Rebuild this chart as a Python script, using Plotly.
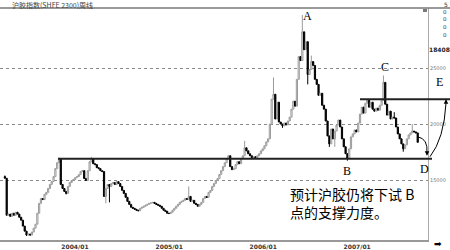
import plotly.graph_objects as go
import pandas as pd

# ---------------- data ----------------
title_text = "沪胶指数(SHFE 2300)周线"
start_week = "2003-04-04"
closes = [
    15200, 11900, 12000, 11800, 12080, 11900, 12170, 12000, 11720, 11460,
    10930, 10480, 10130, 10220, 10130, 10400, 10750, 11100, 12080, 12960,
    13400, 13300, 13760, 13940, 14290, 14650, 14910, 15350, 16060, 16590,
    16950, 14650, 14290, 14030, 13850, 14470, 14820, 15000, 15090, 15260,
    15350, 15530, 15800, 15880, 15180, 15000, 15880, 16680, 16950, 16500,
    16420, 16150, 16060, 15880, 15800, 13580, 14290, 14650, 14470, 14730,
    14820, 14650, 14900, 14730, 14470, 14120, 13850, 13500, 13140, 12870,
    12610, 12520, 12430, 12350, 12300, 12520, 12610, 12700, 12790, 12870,
    12960, 13000, 13050, 12960, 12870, 12790, 12700, 12520, 12350, 12260,
    12080, 12050, 12170, 12350, 12520, 12700, 12870, 13050, 13140, 13230,
    13400, 13320, 13580, 13140, 13230, 12960, 12870, 12700, 12870, 13050,
    13400, 13580, 13500, 13940, 14110, 14470, 14730, 15000, 15180, 15530,
    15880, 16240, 16590, 16950, 17210, 16240, 15970, 16060, 16420, 16680,
    16500, 16950, 17210, 17920, 17650, 17390, 17210, 16950, 17120, 17030,
    17210, 17390, 17650, 17830, 18100, 18450, 18720, 20040, 22260, 22700,
    20490, 21990, 20220, 20040, 19870, 20130, 19960, 20310, 20660, 21370,
    22080, 21640, 24030, 26060, 25710, 28270, 26680, 27390, 24470, 24910,
    25620, 25270, 24030, 23580, 22610, 22790, 21720, 21370, 20310, 18980,
    18270, 19600, 18720, 19420, 19960, 20400, 19780, 18720, 18010, 17390,
    16950, 17830, 18900, 19160, 19510, 19340, 20130, 20930, 21550, 21020,
    21900, 22170, 21550, 21990, 21370, 21190, 21460, 21280, 21720, 22170,
    23760, 21810, 20840, 21190, 20490, 20660, 20580, 19780, 19160, 18720,
    18270, 17830, 18180, 18720, 19070, 19250, 19420, 19340, 19250, 18408,
]
first_open = 15350
wick_highs = {0: 15450, 30: 17050, 48: 17100, 102: 14470, 133: 18540, 149: 24200,
              165: 29780, 170: 26150, 210: 24380, 216: 21100, 226: 20040}
wick_lows = {12: 10050, 34: 13760, 56: 12960, 58: 13050, 154: 19700, 168: 23580,
             180: 18000, 183: 18010, 190: 16770, 221: 17570}
support_level = 16950
resist_level = 22260
ytick_vals = [15000, 20000, 25000]
ytick_text = ["15000", "20000", "25000"]
xtick_vals = ["2004-01-01", "2005-01-01", "2006-01-01", "2007-01-01"]
xtick_text = ["2004/01", "2005/01", "2006/01", "2007/01"]
last_price_text = "18408"
note_text = "预计沪胶仍将下试 B<br>点的支撑力度。"

dates = pd.date_range(start_week, periods=len(closes), freq="7D")
opens = [first_open] + closes[:-1]
highs = [max(o, c, wick_highs.get(i, 0)) for i, (o, c) in enumerate(zip(opens, closes))]
lows = [min(o, c, wick_lows.get(i, 10**9)) for i, (o, c) in enumerate(zip(opens, closes))]

# ---------------- figure ----------------
W, H = 450, 250
ML, MR, MT, MB = 0, 22, 8, 8
PW, PH = W - ML - MR, H - MT - MB


def PX(x):
    return (x - ML) / PW


def PY(y):
    return (H - MB - y) / PH


fig = go.Figure()
fig.add_trace(go.Candlestick(
    x=dates, open=opens, high=highs, low=lows, close=closes,
    increasing=dict(line=dict(color="#9a9a9a", width=1), fillcolor="white"),
    decreasing=dict(line=dict(color="black", width=1), fillcolor="black"),
    whiskerwidth=0, showlegend=False, hoverinfo="skip",
))

fig.update_layout(
    width=W, height=H,
    margin=dict(l=ML, r=MR, t=MT, b=MB, pad=0),
    paper_bgcolor="white", plot_bgcolor="white",
    showlegend=False, boxgap=0.05,
    xaxis=dict(
        type="date", range=["2003-03-16", "2007-10-03"],
        rangeslider=dict(visible=False),
        tickvals=xtick_vals, ticktext=xtick_text,
        tickfont=dict(size=6, color="#333", family="DejaVu Sans", weight="bold"),
        showgrid=False, zeroline=False, ticks="",
        showline=True, linecolor="#999", linewidth=2,
    ),
    yaxis=dict(
        side="right", range=[9690, 30400],
        tickvals=ytick_vals, ticktext=ytick_text,
        tickfont=dict(size=5, color="#777", family="DejaVu Sans"),
        showgrid=True, griddash="dot", gridcolor="#8a8a8a", gridwidth=1,
        zeroline=False, ticks="", showline=True, linecolor="#aaa", linewidth=1,
    ),
    font=dict(family="Noto Sans CJK SC"),
)

shapes = []
# top border across full width
shapes.append(dict(type="line", xref="paper", yref="paper", x0=0, x1=W / PW,
                   y0=PY(8), y1=PY(8), line=dict(color="#777", width=1.5)))
# support line (through B)
shapes.append(dict(type="line", xref="paper", yref="y", x0=PX(58), x1=PX(432),
                   y0=support_level, y1=support_level, line=dict(color="#222", width=2)))
# resistance line (through C)
shapes.append(dict(type="line", xref="paper", yref="y", x0=PX(360), x1=PX(450),
                   y0=resist_level, y1=resist_level, line=dict(color="#222", width=2)))
# small square top right
shapes.append(dict(type="rect", xref="paper", yref="paper", x0=PX(423), x1=PX(427),
                   y0=PY(12), y1=PY(9), line=dict(width=0), fillcolor="#777"))


def pth(pts):
    (x0, y0), (cx, cy), (x1, y1) = pts
    return f"M {PX(x0)},{PY(y0)} Q {PX(cx)},{PY(cy)} {PX(x1)},{PY(y1)}"


shapes.append(dict(type="path", xref="paper", yref="paper",
                   path=pth([(418, 138), (428, 140), (427, 154)]),
                   line=dict(color="black", width=1)))
shapes.append(dict(type="path", xref="paper", yref="paper",
                   path=pth([(430, 158), (444, 140), (446, 104)]),
                   line=dict(color="black", width=1)))
fig.update_layout(shapes=shapes)

ann = []


def txt(x, y, s, size, color="black", family="DejaVu Sans", xanchor="center", weight="normal"):
    ann.append(dict(x=PX(x), y=PY(y), xref="paper", yref="paper", text=s, showarrow=False,
                    xanchor=xanchor, yanchor="middle",
                    font=dict(size=size, color=color, family=family, weight=weight)))


txt(10, 4.5, title_text, 7, "#444", "Noto Sans CJK SC", "left")
serif = "Liberation Serif"
txt(307, 16, "A", 12, "black", serif)
txt(347, 172, "B", 12, "black", serif)
txt(385, 68, "C", 12, "black", serif)
txt(424, 170, "D", 12, "black", serif)
txt(440, 83, "E", 12, "black", serif)
for yy in (12, 19, 27, 35):
    txt(445, yy, "0", 5.5, "#333")
txt(440, 50, last_price_text, 6, "#222", weight="bold")
txt(446, 4, "5", 6, "#333")
txt(438, 246, "➡", 9, "black")
ann.append(dict(x=PX(288), y=PY(205), xref="paper", yref="paper", text=note_text,
                showarrow=False, xanchor="left", yanchor="middle", align="left",
                font=dict(size=14, color="black", family="Noto Sans CJK SC")))
# arrowheads
ann.append(dict(x=PX(427), y=PY(157), xref="paper", yref="paper", text="", showarrow=True,
                ax=0, ay=-4, arrowhead=2, arrowsize=0.9, arrowwidth=1, arrowcolor="black"))
ann.append(dict(x=PX(446), y=PY(100), xref="paper", yref="paper", text="", showarrow=True,
                ax=0, ay=5, arrowhead=2, arrowsize=0.9, arrowwidth=1, arrowcolor="black"))
fig.update_layout(annotations=ann)

fig.write_html("out.html")
